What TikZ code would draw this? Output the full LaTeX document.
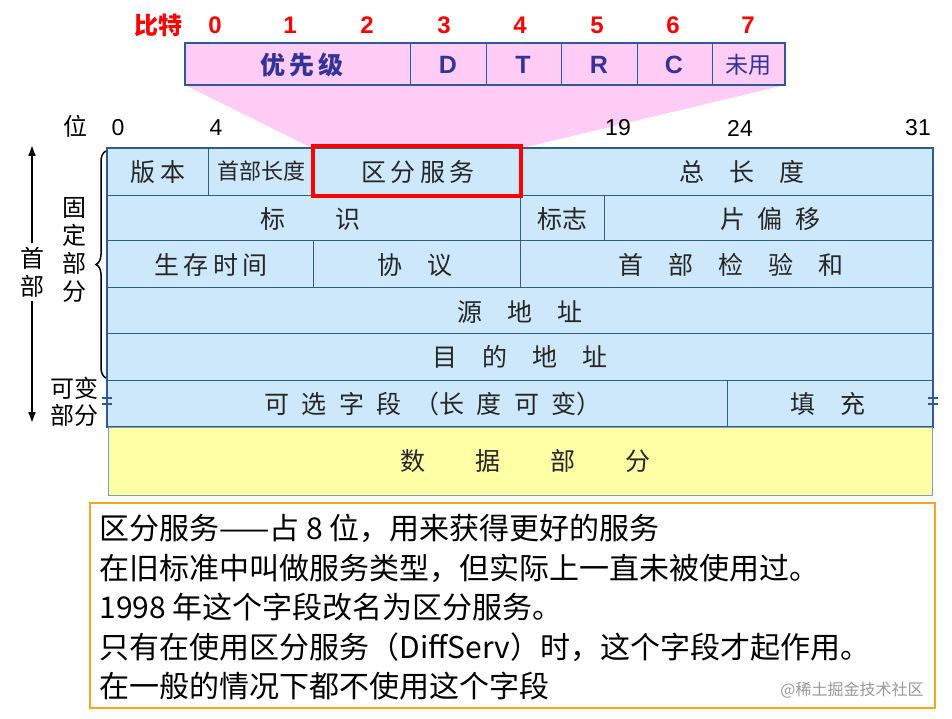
\documentclass[tikz,border=0pt]{standalone}
\usepackage{fontspec}
\setmainfont{Noto Sans CJK SC}
\newfontfamily\lat{Liberation Sans}
\usetikzlibrary{decorations.pathreplacing,arrows.meta}
\definecolor{cellblue}{HTML}{CCE8FA}
\definecolor{lineblue}{HTML}{2E5C8F}
\definecolor{pinkf}{HTML}{FFCCF5}
\definecolor{yel}{HTML}{FFFFA6}
\definecolor{orng}{HTML}{F5A623}
\definecolor{navy}{HTML}{333399}
\tikzset{
 cell/.style={draw=lineblue,line width=0.8pt,fill=cellblue},
 ctext/.style={font=\fontsize{25}{25}\selectfont,text=black!85},
 ttext/.style={font=\fontsize{25}{25}\selectfont\bfseries\lat,text=navy},
 ctop/.style={font=\fontsize{25}{25}\selectfont\bfseries,text=navy},
 bit/.style={font=\fontsize{23}{23}\selectfont\lat,text=black},
 rbit/.style={font=\fontsize{24}{24}\selectfont\bfseries\lat,text=red},
 btext/.style={font=\fontsize{30}{30}\selectfont,text=black,anchor=west}
}
\begin{document}
\begin{tikzpicture}[x=1pt,y=-1pt]
\useasboundingbox[fill=white] (0,0) rectangle (952,719);
\fill[pinkf] (185,85) -- (785,85) -- (522,148) -- (312,148) -- cycle;
\foreach \a/\b in {185/410,410/486,486/561,561/637,637/712,712/785}
  \filldraw[fill=pinkf,draw=lineblue,line width=0.8pt] (\a,43) rectangle (\b,85);
\draw[lineblue,line width=1.5pt] (185,43) rectangle (785,85);
\node[ctop] (p1) at (302,65) {优\,先\,级};
\node[ttext] (p2) at (448,65) {D};
\node[ttext] (p3) at (523,65) {T};
\node[ttext] (p4) at (599,65) {R};
\node[ttext] (p5) at (674,65) {C};
\node[ctop,font=\fontsize{23}{23}\selectfont] (p6) at (748,65) {未用};
\node[font=\fontsize{24}{24}\selectfont\bfseries,text=red] (bt) at (158,25) {比特};
\foreach \i/\x in {0/215,1/290,2/367,3/444,4/520,5/597,6/673,7/748}
  \node[rbit] (b\i) at (\x,25) {\i};
\node[font=\fontsize{24}{24}\selectfont] (wei) at (75,126) {位};
\node[bit] (n0) at (118,128) {0};
\node[bit] (n4) at (216,128) {4};
\node[bit] (n19) at (618,128) {19};
\node[bit] (n24) at (740,128) {24};
\node[bit] (n31) at (918,128) {31};
\foreach \a/\b in {107/208,208/312,312/522,522/933} \draw[cell] (\a,148) rectangle (\b,195);
\foreach \a/\b in {107/520,520/604,604/933} \draw[cell] (\a,195) rectangle (\b,240);
\foreach \a/\b in {107/313,313/520,520/933} \draw[cell] (\a,240) rectangle (\b,287);
\draw[cell] (107,287) rectangle (933,333);
\draw[cell] (107,333) rectangle (933,380);
\foreach \a/\b in {107/727,727/933} \draw[cell] (\a,380) rectangle (\b,427);
\draw[lineblue,line width=2pt] (107,148) rectangle (933,427);
\draw[red,line width=4pt] (313,146) rectangle (521,196);
\filldraw[fill=yel,draw=lineblue!60,line width=0.6pt] (108,427) rectangle (932,495);
\node[ctext] (t1) at (158,172) {版\,本};
\node[ctext,font=\fontsize{22}{22}\selectfont] (t2) at (261,171) {首部长度};
\node[ctext] (t3) at (418,172) {区\,分\,服\,务};
\node[ctext] (t4) at (742,172) {总\quad 长\quad 度};
\node[ctext] (t5) at (310,219) {标\qquad 识};
\node[ctext] (t6) at (562,219) {标志};
\node[ctext] (t7) at (770,219) {片\enspace 偏\enspace 移};
\node[ctext] (t8) at (211,265) {生\,存\,时\,间};
\node[ctext] (t9) at (415,265) {协\quad 议};
\node[ctext] (t10) at (731,265) {首\quad 部\quad 检\quad 验\quad 和};
\node[ctext] (t11) at (520,312) {源\quad 地\quad 址};
\node[ctext] (t12) at (520,357) {目\quad 的\quad 地\quad 址};
\node[ctext] (t13) at (433,404) {可\enspace 选\enspace 字\enspace 段\enspace（长\enspace 度\enspace 可\enspace 变）};
\node[ctext] (t14) at (828,404) {填\quad 充};
\node[ctext] (t15) at (525,461) {数\qquad 据\qquad 部\qquad 分};
\foreach \x in {107,933}{\draw[lineblue,line width=1.2pt] (\x-5,398) -- (\x+5,398) (\x-5,404) -- (\x+5,404);}
\coordinate (atop) at (32,146);
\coordinate (abot) at (32,422);
\node[font=\fontsize{24}{28}\selectfont,align=center] (sb) at (32,272) {首\\部};
\draw[-{Triangle[length=10pt,width=7pt]},line width=1.5pt] (sb.north) -- (atop);
\draw[-{Triangle[length=10pt,width=7pt]},line width=1.5pt] (sb.south) -- (abot);
\draw[decorate,decoration={brace,amplitude=10pt},line width=1.5pt] (106,378) -- (106,151);
\node[font=\fontsize{24}{28}\selectfont,align=center,inner sep=0pt] (gd) at (74,250) {固\\定\\部\\分};
\node[font=\fontsize{24}{27}\selectfont,align=center,inner sep=0pt] (kb) at (74,402) {可变\\部分};
\draw[orng,line width=1.5pt] (90,503) rectangle (935,708);
\node[btext] (l1) at (96,528) {区分服务——占 8 位，用来获得更好的服务};
\node[btext] (l2) at (96,568) {在旧标准中叫做服务类型，但实际上一直未被使用过。};
\node[btext] (l3) at (96,607) {1998 年这个字段改名为区分服务。};
\node[btext] (l4) at (96,647) {只有在使用区分服务（DiffServ）时，这个字段才起作用。};
\node[btext] (l5) at (96,686) {在一般的情况下都不使用这个字段};
\node[font=\fontsize{16}{16}\selectfont,text=black!40] (wm) at (852,690) {@稀土掘金技术社区};
\end{tikzpicture}
\end{document}
